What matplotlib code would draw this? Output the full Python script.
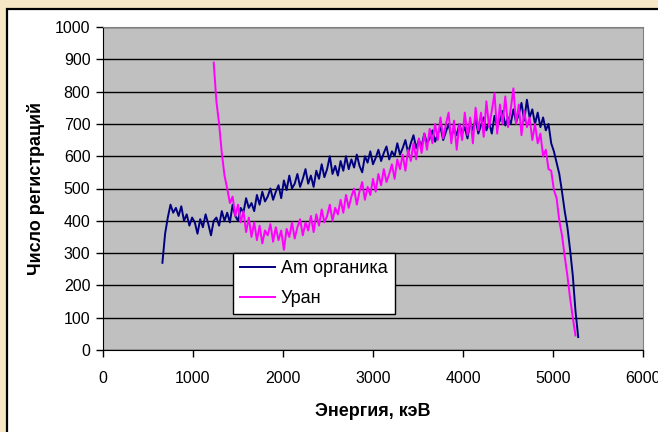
import numpy as np
import matplotlib
matplotlib.use('Agg')
import matplotlib.pyplot as plt
from matplotlib.patches import Rectangle

plt.rcParams['font.family'] = ['Liberation Sans', 'DejaVu Sans']

# Am органика: channels every 30 keV starting at 660 keV
am_start, am_step = 660, 30
am_counts = [
    270, 360, 410, 450, 425, 440, 415, 445, 400, 420,
    385, 410, 395, 360, 405, 380, 420, 390, 355, 400,
    410, 385, 430, 400, 425, 395, 450, 415, 400, 440,
    425, 470, 440, 455, 430, 480, 450, 490, 460, 475,
    500, 465, 490, 510, 470, 525, 495, 540, 500, 515,
    545, 505, 530, 560, 515, 540, 505, 555, 530, 575,
    535, 560, 600, 545, 570, 540, 585, 555, 600, 560,
    590, 565, 605, 570, 550, 600, 580, 615, 575, 595,
    620, 585, 610, 630, 590, 615, 600, 640, 605, 625,
    650, 610, 640, 665, 625, 650, 630, 670, 640, 655,
    680, 645, 670, 690, 650, 675, 700, 660, 685, 665,
    700, 670, 690, 655, 705, 680, 715, 670, 695, 720,
    680, 705, 670, 725, 690, 710, 740, 695, 720, 700,
    745, 705, 730, 765, 710, 775, 720, 745, 700, 735,
    690, 720, 680, 700, 640, 615, 580, 545, 490, 430,
    380, 310, 230, 120, 40,
]

# Уран: channels every 30 keV starting at 1230 keV
u_start, u_step = 1230, 30
u_counts = [
    890, 770, 700, 610, 540, 500, 455, 475, 415, 450,
    395, 430, 365, 410, 350, 395, 340, 385, 330, 370,
    355, 390, 335, 380, 340, 370, 310, 375, 350, 395,
    345, 380, 405, 355, 395, 370, 415, 365, 420, 385,
    435, 395, 415, 450, 400, 440, 420, 465, 425, 480,
    440, 475, 500, 450, 490, 520, 465, 505, 480, 530,
    490, 545, 510, 560, 520, 545, 575, 530, 590, 560,
    605, 555, 620, 585, 640, 590, 655, 610, 670, 620,
    685, 640, 700, 650, 720, 655, 700, 735, 640, 710,
    620, 700, 650, 735, 665, 720, 640, 750, 680, 735,
    660, 770, 690, 740, 795, 670, 760, 700, 785, 690,
    745, 810, 700, 760, 665, 740, 690, 720, 650, 700,
    640, 670, 600, 620, 560, 555, 495, 470, 400, 355,
    290, 230, 160, 100, 45,
]

am_energy = am_start + am_step * np.arange(len(am_counts))
u_energy = u_start + u_step * np.arange(len(u_counts))

x_ticks = [0, 1000, 2000, 3000, 4000, 5000, 6000]
y_ticks = [0, 100, 200, 300, 400, 500, 600, 700, 800, 900, 1000]

fig = plt.figure(figsize=(6.58, 4.32), dpi=100, facecolor='#f6e7c6')

# white chart area with black frame
fig.patches.append(Rectangle((7 / 658, -0.05), 1.2, 1 - 9 / 432 + 0.05,
                             transform=fig.transFigure, facecolor='white',
                             edgecolor='black', linewidth=1.6, zorder=-10))

ax = fig.add_axes([103 / 658, 82 / 432, 540 / 658, 323 / 432])
ax.set_facecolor('#c0c0c0')

ax.plot(am_energy, am_counts, color='#000080', linewidth=1.4, label='Am органика')
ax.plot(u_energy, u_counts, color='#ff00ff', linewidth=1.4, label='Уран')

ax.set_xlim(0, 6000)
ax.set_ylim(0, 1000)
ax.set_xticks(x_ticks)
ax.set_yticks(y_ticks)
ax.tick_params(labelsize=11.5, length=5, width=1, color='black', pad=4)
ax.tick_params(axis='x', pad=10)
ax.grid(axis='y', color='black', linewidth=1)
ax.set_axisbelow(True)

for side in ['top', 'right']:
    ax.spines[side].set_color('#808080')
for side in ['left', 'bottom']:
    ax.spines[side].set_color('black')

ax.set_xlabel('Энергия, кэВ', fontsize=13, fontweight='bold', labelpad=12)
ax.set_ylabel('Число регистраций', fontsize=13, fontweight='bold', labelpad=7)

leg = ax.legend(loc='upper left', bbox_to_anchor=((233 - 103) / 540, (350 - 253) / 323),
                fontsize=13, frameon=True, fancybox=False, framealpha=1,
                edgecolor='black', handlelength=1.9, handletextpad=0.35,
                labelspacing=0.7, borderpad=0.4, borderaxespad=0)
leg.get_frame().set_linewidth(1)

fig.savefig('out.png', dpi=100, facecolor=fig.get_facecolor())
